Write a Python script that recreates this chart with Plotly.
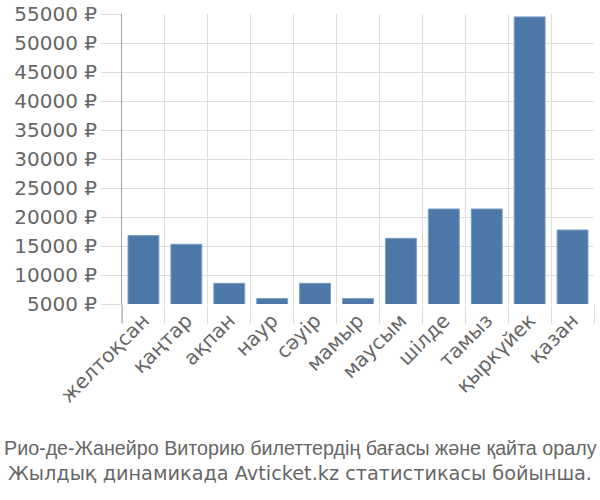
import plotly.graph_objects as go

months = ["желтоқсан", "қаңтар", "ақпан", "наур", "сәуір", "мамыр",
          "маусым", "шілде", "тамыз", "қыркүйек", "қазан"]
prices = [16800, 15300, 8570, 5930, 8570, 5930, 16330, 21380, 21380, 54500, 17760]
y_ticks = [5000, 10000, 15000, 20000, 25000, 30000, 35000, 40000, 45000, 50000, 55000]
y_tick_labels = [f"{v} ₽" for v in y_ticks]
caption_line1 = "Рио-де-Жанейро Виторию билеттердің бағасы және қайта оралу"
caption_line2 = "Жылдық динамикада Avticket.kz статистикасы бойынша."

L, T = 122, 14
R = 600 - 594
B = 500 - 304
plot_w = 600 - L - R
plot_h = 500 - T - B

fig = go.Figure(go.Bar(
    x=months, y=prices, base=0,
    marker=dict(color="#4c78a8", line=dict(color="#7d9dc4", width=1)),
    width=0.72,
))

fig.update_layout(
    width=600, height=500,
    margin=dict(l=L, r=R, t=T, b=B, autoexpand=False),
    plot_bgcolor="white", paper_bgcolor="white",
    font=dict(family="Liberation Sans, Arial, sans-serif", color="#666666"),
    showlegend=False,
    annotations=[
        dict(text=caption_line1, xref="paper", yref="paper",
             x=(300 - L) / plot_w, y=-131 / plot_h,
             xanchor="center", yanchor="top", showarrow=False,
             font=dict(family="Liberation Sans, Arial, sans-serif",
                       size=19.7, color="#666666")),
        dict(text=caption_line2, xref="paper", yref="paper",
             x=(300 - L) / plot_w, y=-156 / plot_h,
             xanchor="center", yanchor="top", showarrow=False,
             font=dict(family="DejaVu Sans, sans-serif",
                       size=19.3, color="#666666")),
    ],
    shapes=[dict(type="line", xref="paper", yref="paper", x0=0, x1=0, y0=0, y1=-19 / plot_h,
                 line=dict(color="#a0a0a0", width=1))],
)
fig.update_xaxes(
    automargin=False,
    tickson="boundaries", ticks="outside", ticklen=19, tickcolor="#dddddd",
    showgrid=True, gridcolor="#dddddd", gridwidth=1,
    tickangle=-45, tickfont=dict(family="DejaVu Sans, sans-serif", size=20, color="#666666"),
    showline=False,
)
fig.update_yaxes(
    automargin=False,
    range=[5000, 55000], tickvals=y_ticks, ticktext=y_tick_labels,
    ticks="outside", ticklen=20, tickcolor="#dddddd",
    showgrid=True, gridcolor="#dddddd", gridwidth=1,
    showline=True, linecolor="#a0a0a0", linewidth=1,
    tickfont=dict(family="DejaVu Sans, sans-serif", size=20, color="#666666"), zeroline=False,
)

fig.write_html("out.html", config={"displayModeBar": False},
               post_script="document.body.style.margin='0';")
